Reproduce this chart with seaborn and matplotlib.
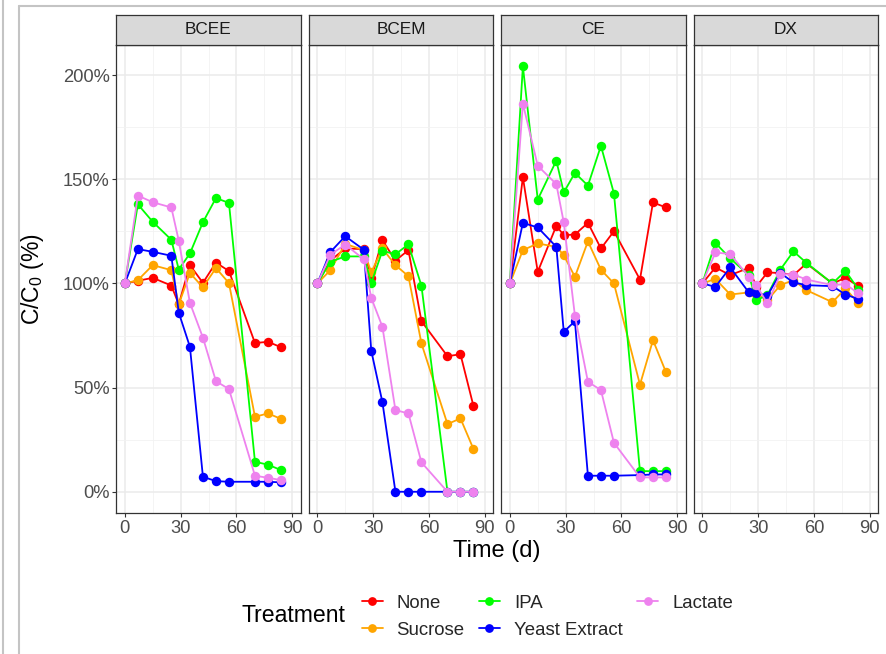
import numpy as np
import pandas as pd
import matplotlib
matplotlib.use("Agg")
import matplotlib.pyplot as plt
import seaborn as sns
from matplotlib.lines import Line2D
from matplotlib.ticker import FuncFormatter

# ---------------- data ----------------
days = [0, 7, 15, 25, 29, 35, 42, 49, 56, 70, 77, 84]
compounds = ["BCEE", "BCEM", "CE", "DX"]
treatments = ["None", "Sucrose", "IPA", "Yeast Extract", "Lactate"]
colors = ["#FF0000", "#FFA500", "#00FF00", "#0000FF", "#EE82EE"]

bcee_none = [100, 101.3, 102.7, 99, 90, 108.8, 100.3, 110, 106, 71.4, 72, 69.4]
bcee_sucrose = [100, 101.6, 108.8, 106.4, 90, 105, 98.2, 107.4, 100.2, 36, 37.6, 35]
bcee_ipa = [100, 138, 129.6, 121, 106.7, 114.4, 129.4, 141, 138.7, 14.4, 13, 10.4]
bcee_yeast = [100, 116.5, 115.2, 113.3, 86, 69.6, 7.2, 5.1, 4.8, 4.8, 4.8, 4.5]
bcee_lactate = [100, 142.2, 139, 136.5, 120.5, 90.7, 74, 53.1, 49.3, 7.7, 6.7, 5.6]

bcem_none = [100, 111, 116.8, 116.5, 102.5, 120.8, 111, 116, 81.9, 65.1, 66, 41.1]
bcem_sucrose = [100, 106.4, 119, 116, 105.3, 116.8, 108.8, 103.5, 71.2, 32.5, 35.2, 20.5]
bcem_ipa = [100, 110.4, 113, 113, 100.2, 115.7, 114, 118.8, 98.9, 0, 0, 0]
bcem_yeast = [100, 115.1, 122.7, 116.2, 67.7, 43, 0, 0, 0, 0, 0, 0]
bcem_lactate = [100, 113.8, 118.7, 111.6, 93.1, 79.2, 39.2, 37.6, 14.1, 0, 0, 0]

ce_none = [100, 151, 105.6, 127.7, 123.2, 123.5, 129.1, 116.8, 125.1, 101.9, 138.9, 136.5]
ce_sucrose = [100, 116, 119.2, 117.6, 113.6, 103.2, 120.2, 106.6, 100, 51.4, 72.8, 57.4]
ce_ipa = [100, 204.3, 140.3, 159, 143.7, 153.1, 147, 166.1, 143.2, 9.9, 9.9, 9.9]
ce_yeast = [100, 129.1, 126.9, 117.6, 76.8, 81.9, 7.7, 7.7, 7.7, 8, 8.3, 8.3]
ce_lactate = [100, 186.4, 156.5, 147.7, 129.3, 84.5, 52.8, 48.8, 23.5, 6.9, 6.9, 6.9]

dx_none = [100, 107.7, 104, 107.5, 98.5, 105.3, 105, 104, 109.6, 100, 102.7, 98.7]
dx_sucrose = [100, 102.2, 94.7, 95.7, 95, 92, 99.2, 101.6, 96.8, 91, 97.6, 90.4]
dx_ipa = [100, 119.5, 112, 104, 92, 94.4, 106.7, 115.4, 109.9, 100, 106, 97.1]
dx_yeast = [100, 98.4, 107.7, 95.7, 95.5, 94.2, 105, 100.5, 99.2, 98.7, 94.7, 92.5]
dx_lactate = [100, 114.9, 114.1, 103.2, 99.2, 90.4, 104.5, 104.3, 101.9, 99.2, 99.7, 95.2]

series = {
    "BCEE": [bcee_none, bcee_sucrose, bcee_ipa, bcee_yeast, bcee_lactate],
    "BCEM": [bcem_none, bcem_sucrose, bcem_ipa, bcem_yeast, bcem_lactate],
    "CE": [ce_none, ce_sucrose, ce_ipa, ce_yeast, ce_lactate],
    "DX": [dx_none, dx_sucrose, dx_ipa, dx_yeast, dx_lactate],
}

rows = []
for comp in compounds:
    for tr, vals in zip(treatments, series[comp]):
        for d, v in zip(days, vals):
            rows.append({"Compound": comp, "Treatment": tr, "Time": d, "Value": v})
df = pd.DataFrame(rows)

# ---------------- style ----------------
sns.set_theme(style="white")
plt.rcParams["font.family"] = ["Liberation Sans", "DejaVu Sans"]
plt.rcParams["mathtext.fontset"] = "custom"
plt.rcParams["mathtext.rm"] = "Liberation Sans"

W, H = 886, 654
fig = plt.figure(figsize=(W / 100, H / 100), dpi=100)
fig.patch.set_facecolor("white")

def fx(px):
    return px / W

def fy(py):
    return 1 - py / H

panel_w = 184.0
gap = 8.5
left0 = 116.5
top_px, bot_px, strip_top = 45, 513, 15
dark = "#333333"
tickcol = "#4D4D4D"

axes = []
for i, comp in enumerate(compounds):
    l = left0 + i * (panel_w + gap)
    ax = fig.add_axes([fx(l), fy(bot_px), fx(panel_w), (bot_px - top_px) / H])
    sub = df[df["Compound"] == comp]
    sns.lineplot(data=sub, x="Time", y="Value", hue="Treatment",
                 hue_order=treatments, palette=colors, marker="o",
                 markersize=6.8, markeredgewidth=0, linewidth=1.3,
                 legend=False, ax=ax, errorbar=None)
    ax.set_xlim(-4.5, 94.5)
    ax.set_ylim(-10.2, 214.5)
    ax.set_xticks([0, 30, 60, 90])
    ax.set_xticks([15, 45, 75], minor=True)
    ax.set_yticks([0, 50, 100, 150, 200])
    ax.set_yticks([25, 75, 125, 175], minor=True)
    ax.yaxis.set_major_formatter(FuncFormatter(lambda v, p: f"{int(v)}%"))
    ax.grid(which="major", color="#EBEBEB", lw=1.1)
    ax.grid(which="minor", color="#F2F2F2", lw=0.6)
    ax.set_axisbelow(True)
    for s in ax.spines.values():
        s.set_color(dark)
        s.set_linewidth(0.9)
    ax.tick_params(axis="both", which="major", direction="out", length=3,
                   width=0.8, color=dark, labelsize=13.2, labelcolor=tickcol,
                   pad=2, bottom=True, left=True)
    ax.tick_params(which="minor", length=0)
    if i > 0:
        ax.tick_params(axis="y", left=False, labelleft=False)
    ax.set_xlabel("")
    ax.set_ylabel("")
    axes.append(ax)

    sax = fig.add_axes([fx(l), fy(top_px), fx(panel_w), (top_px - strip_top) / H])
    sax.set_facecolor("#D9D9D9")
    sax.set_xticks([])
    sax.set_yticks([])
    for s in sax.spines.values():
        s.set_color(dark)
        s.set_linewidth(0.9)
    sax.text(0.5, 0.5, comp, ha="center", va="center", fontsize=12.4,
             color="#1A1A1A", transform=sax.transAxes)

# axis titles
fig.text(fx(497), fy(551), "Time (d)", ha="center", va="center", fontsize=17,
         color="black")
fig.text(fx(33), fy(279), r"C/C$_\mathregular{0}$ (%)", ha="center", va="center",
         rotation=90, fontsize=16.5, color="black")

# legend
handles = [Line2D([], [], color=c, marker="o", markersize=6.3, markeredgewidth=0,
                  lw=1.3) for c in colors]
fig.legend(handles, treatments, ncol=3, loc="upper left",
           bbox_to_anchor=(fx(361.5), fy(594.5)), frameon=False, fontsize=13.4,
           handlelength=1.13, handletextpad=0.75, columnspacing=0.77,
           labelspacing=0.54, borderpad=0, borderaxespad=0)
fig.text(fx(242), fy(616), "Treatment", ha="left", va="center", fontsize=16.6,
         color="black")

# outer frame lines of the screenshot
framecol = "#C4C4C4"
fig.add_artist(Line2D([fx(3), fx(3)], [0, 1], color=framecol, lw=1.5,
                      transform=fig.transFigure))
fig.add_artist(Line2D([fx(19), fx(19)], [0, fy(6)], color=framecol, lw=1.5,
                      transform=fig.transFigure))
fig.add_artist(Line2D([fx(19), 1], [fy(6), fy(6)], color=framecol, lw=1.5,
                      transform=fig.transFigure))

fig.savefig("out.png", dpi=100, facecolor="white")
